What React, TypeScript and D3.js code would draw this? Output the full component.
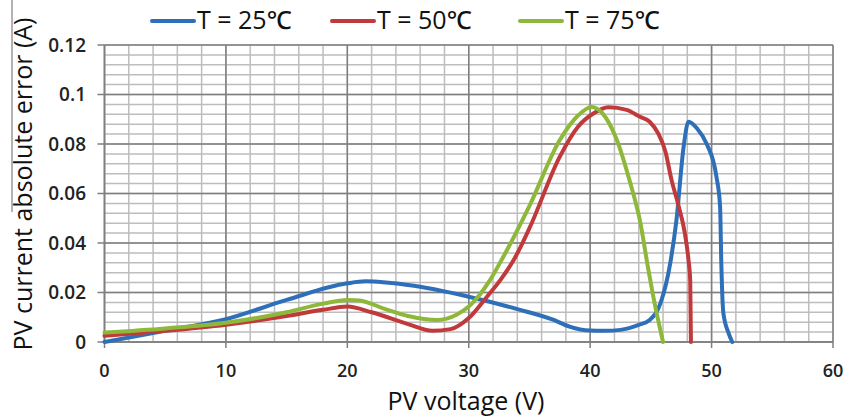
import * as d3 from 'd3'

const volt25 = [0, 5, 10, 15, 20, 21.5, 25, 30, 34, 37, 38.3, 40, 41.2, 42.5, 44, 44.9, 45.8, 46.6, 47.1, 47.7, 48.1, 48.8, 49.6, 50.4, 50.7, 50.8, 50.97, 51.4, 51.7]
const err25 = [0, 0.0045, 0.0092, 0.017, 0.0237, 0.0245, 0.023, 0.0183, 0.0133, 0.0089, 0.0062, 0.0046, 0.0045, 0.0049, 0.0069, 0.0089, 0.0158, 0.032, 0.049, 0.079, 0.089, 0.0863, 0.08, 0.0668, 0.0547, 0.032, 0.0117, 0.0036, 0]

const volt50 = [0, 5, 10, 15, 18, 20, 22, 25, 27, 28.5, 30, 31.5, 32.6, 33.7, 35, 37.5, 39, 40.3, 41.5, 43, 44.1, 44.9, 45.6, 46.2, 46.7, 47.3, 47.8, 48.1, 48.24, 48.3]
const err50 = [0.0025, 0.0045, 0.007, 0.0105, 0.013, 0.0143, 0.012, 0.0072, 0.0045, 0.0052, 0.0097, 0.0183, 0.025, 0.0331, 0.046, 0.0749, 0.087, 0.0924, 0.0948, 0.0938, 0.091, 0.089, 0.0843, 0.0769, 0.0655, 0.0547, 0.0439, 0.0331, 0.025, 0]

const volt75 = [0, 5, 10, 15, 18, 20, 21, 23, 25, 27.4, 29, 30, 31.75, 32.7, 35, 37.5, 39, 40.1, 41, 42.2, 43.2, 44.1, 44.8, 45.2, 46]
const err75 = [0.0038, 0.0055, 0.0078, 0.012, 0.0155, 0.017, 0.0168, 0.0135, 0.0105, 0.0089, 0.011, 0.0143, 0.025, 0.0331, 0.055, 0.0816, 0.0915, 0.095, 0.0925, 0.0816, 0.066, 0.049, 0.029, 0.0183, 0]

const seriesNames = ['T = 25℃', 'T = 50℃', 'T = 75℃']
const seriesColors = ['#2e6fba', '#c0393b', '#8db83a']
const xTicks = [0, 10, 20, 30, 40, 50, 60]
const yTicks = [0, 0.02, 0.04, 0.06, 0.08, 0.1, 0.12]

const W = 844
const H = 418
const font = "'Open Sans', 'Noto Sans', sans-serif"

export default function App() {
  const x = d3.scaleLinear().domain([0, 60]).range([104.5, 833])
  const y = d3.scaleLinear().domain([0, 0.12]).range([342, 45])

  const minorX = d3.range(0, 60.001, 2)
  const minorY = d3.range(0, 0.12001, 0.004)

  const line = d3.line<[number, number]>()
    .x(d => x(d[0]))
    .y(d => y(d[1]))
    .curve(d3.curveMonotoneX)

  const series = [
    volt25.map((v, i) => [v, err25[i]] as [number, number]),
    volt50.map((v, i) => [v, err50[i]] as [number, number]),
    volt75.map((v, i) => [v, err75[i]] as [number, number]),
  ]

  const legendX = [152, 332, 520]

  return (
    <svg width={W} height={H} style={{ position: 'absolute', left: 0, top: 0, background: '#fff' }}>
      {/* stray border line from the source image */}
      <line x1={12} x2={12} y1={0} y2={212} stroke="#666" strokeWidth={1} />

      {/* minor grid */}
      {minorX.map(v => (
        <line key={'mx' + v} x1={x(v)} x2={x(v)} y1={y(0.12)} y2={y(0)} stroke="#bdbdbd" strokeWidth={1.5} />
      ))}
      {minorY.map(v => (
        <line key={'my' + v} x1={x(0)} x2={x(60)} y1={y(v)} y2={y(v)} stroke="#bdbdbd" strokeWidth={1.5} />
      ))}
      {/* major grid */}
      {xTicks.map(v => (
        <line key={'gx' + v} x1={x(v)} x2={x(v)} y1={y(0.12)} y2={y(0) + 6} stroke="#7f7f7f" strokeWidth={1.5} />
      ))}
      {yTicks.map(v => (
        <line key={'gy' + v} x1={x(0) - 7} x2={x(60)} y1={y(v)} y2={y(v)} stroke="#7f7f7f" strokeWidth={1.5} />
      ))}
      <line x1={x(0)} x2={x(0)} y1={y(0.12)} y2={y(0)} stroke="#7f7f7f" strokeWidth={1.5} />
      <line x1={x(0)} x2={x(60)} y1={y(0)} y2={y(0)} stroke="#7f7f7f" strokeWidth={1.5} />

      {/* curves */}
      {series.map((s, i) => (
        <path key={'s' + i} d={line(s) || ''} fill="none" stroke={seriesColors[i]} strokeWidth={4} strokeLinejoin="round" strokeLinecap="round" />
      ))}

      {/* tick labels */}
      {yTicks.map(v => (
        <text key={'ty' + v} x={86} y={y(v)} dy="0.36em" textAnchor="end" fontFamily={font} fontWeight={600} fontSize={19} fill="#222">
          {d3.format('~g')(v)}
        </text>
      ))}
      {xTicks.map(v => (
        <text key={'tx' + v} x={x(v)} y={377} textAnchor="middle" fontFamily={font} fontWeight={600} fontSize={18} fill="#222">
          {v}
        </text>
      ))}

      {/* axis titles */}
      <text x={466} y={410} textAnchor="middle" fontFamily={font} fontWeight={500} fontSize={25} fill="#111">PV voltage (V)</text>
      <text transform="translate(32,184) rotate(-90)" textAnchor="middle" fontFamily={font} fontWeight={500} fontSize={25} fill="#111">
        PV current absolute error (A)
      </text>

      {/* legend */}
      {seriesNames.map((n, i) => (
        <g key={'lg' + i}>
          <line x1={legendX[i]} x2={legendX[i] + 42} y1={21} y2={21} stroke={seriesColors[i]} strokeWidth={4} strokeLinecap="round" />
          <text x={legendX[i] + 45} y={29} fontFamily={font} fontWeight={500} fontSize={25} fill="#111">{n}</text>
        </g>
      ))}
    </svg>
  )
}
